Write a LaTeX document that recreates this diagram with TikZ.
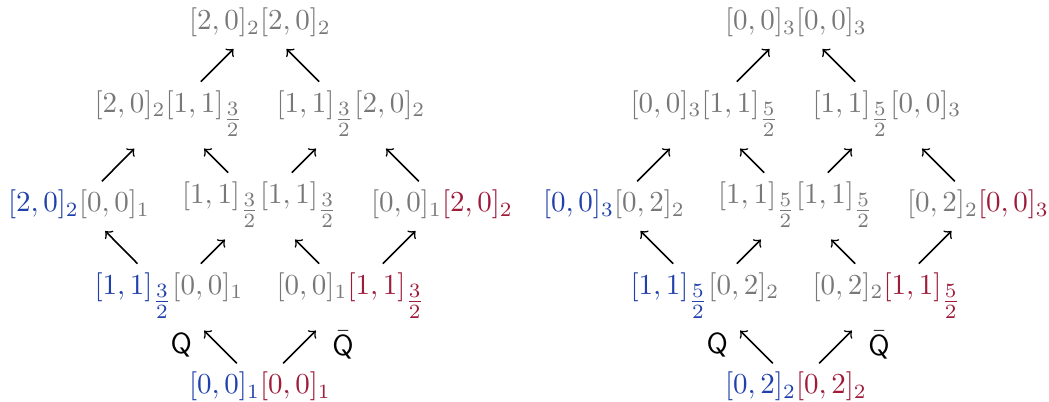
\documentclass[tikz,border=0pt]{standalone}
\usepackage{amsmath}
\definecolor{cb}{RGB}{32,64,172}
\definecolor{cr}{RGB}{158,28,58}
\definecolor{cg}{RGB}{120,120,120}
\newcommand{\ssb}[1]{_{#1}}
\newcommand{\hsb}[1]{_{\textstyle\frac{#1}{2}}}
\newcommand{\cbl}[1]{\textcolor{cb}{#1}}
\newcommand{\crd}[1]{\textcolor{cr}{#1}}
\begin{document}
\begin{tikzpicture}[x=0.345pt,y=-0.345pt,
  term/.style={text=cg, inner sep=1pt},
  arr/.style={->, line width=0.55pt, shorten <=2.55pt, shorten >=4.15pt},
  lab/.style={text=black, inner sep=1pt}]
\useasboundingbox (0,0) rectangle (1049,402);
% left diagram
\node[term] (La)  at (260,22.5)  {$[2,0]\ssb2[2,0]\ssb2$};
\node[term] (Lb1) at (169,113.5) {$[2,0]\ssb2[1,1]\hsb3$};
\node[term] (Lb2) at (351,113.5) {$[1,1]\hsb3[2,0]\ssb2$};
\node[term] (Lc1) at (79,204.5)  {$\cbl{[2,0]\ssb2}[0,0]\ssb1$};
\node[term] (Lc2) at (260,204.5) {$[1,1]\hsb3[1,1]\hsb3$};
\node[term] (Lc3) at (442,204.5) {$[0,0]\ssb1\crd{[2,0]\ssb2}$};
\node[term] (Ld1) at (169,295.5) {$\cbl{[1,1]\hsb3}[0,0]\ssb1$};
\node[term] (Ld2) at (351,295.5) {$[0,0]\ssb1\crd{[1,1]\hsb3}$};
\node[term] (Le)  at (260,386.5) {$\cbl{[0,0]\ssb1}\crd{[0,0]\ssb1}$};
\draw[arr] (Lb1) -- (La);
\draw[arr] (Lb2) -- (La);
\draw[arr] (Lc1) -- (Lb1);
\draw[arr] (Lc2) -- (Lb1);
\draw[arr] (Lc2) -- (Lb2);
\draw[arr] (Lc3) -- (Lb2);
\draw[arr] (Ld1) -- (Lc1);
\draw[arr] (Ld1) -- (Lc2);
\draw[arr] (Ld2) -- (Lc2);
\draw[arr] (Ld2) -- (Lc3);
\draw[arr] (Le) -- node[lab, midway, left=8pt] (LQ) {$\mathsf{Q}$} (Ld1);
\draw[arr] (Le) -- node[lab, midway, right=9.5pt] (LQb) {$\bar{\mathsf{Q}}$} (Ld2);
% right diagram
\node[term] (Ra)  at (796,22.5)  {$[0,0]\ssb3[0,0]\ssb3$};
\node[term] (Rb1) at (705,113.5) {$[0,0]\ssb3[1,1]\hsb5$};
\node[term] (Rb2) at (887,113.5) {$[1,1]\hsb5[0,0]\ssb3$};
\node[term] (Rc1) at (614,204.5) {$\cbl{[0,0]\ssb3}[0,2]\ssb2$};
\node[term] (Rc2) at (796,204.5) {$[1,1]\hsb5[1,1]\hsb5$};
\node[term] (Rc3) at (978,204.5) {$[0,2]\ssb2\crd{[0,0]\ssb3}$};
\node[term] (Rd1) at (705,295.5) {$\cbl{[1,1]\hsb5}[0,2]\ssb2$};
\node[term] (Rd2) at (887,295.5) {$[0,2]\ssb2\crd{[1,1]\hsb5}$};
\node[term] (Re)  at (796,386.5) {$\cbl{[0,2]\ssb2}\crd{[0,2]\ssb2}$};
\draw[arr] (Rb1) -- (Ra);
\draw[arr] (Rb2) -- (Ra);
\draw[arr] (Rc1) -- (Rb1);
\draw[arr] (Rc2) -- (Rb1);
\draw[arr] (Rc2) -- (Rb2);
\draw[arr] (Rc3) -- (Rb2);
\draw[arr] (Rd1) -- (Rc1);
\draw[arr] (Rd1) -- (Rc2);
\draw[arr] (Rd2) -- (Rc2);
\draw[arr] (Rd2) -- (Rc3);
\draw[arr] (Re) -- node[lab, midway, left=8pt] (RQ) {$\mathsf{Q}$} (Rd1);
\draw[arr] (Re) -- node[lab, midway, right=9.5pt] (RQb) {$\bar{\mathsf{Q}}$} (Rd2);
\end{tikzpicture}
\end{document}
